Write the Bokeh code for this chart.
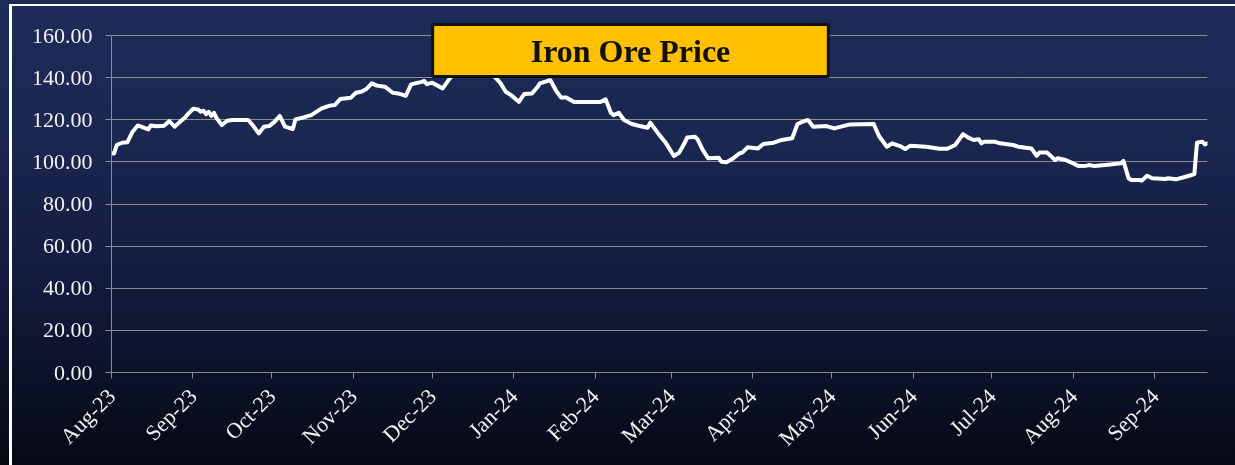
import math
import pandas as pd
from bokeh.plotting import figure
from bokeh.models import (ColumnDataSource, FixedTicker, DatetimeTickFormatter,
                          NumeralTickFormatter, Range1d, Label, GlobalInlineStyleSheet)
from bokeh.embed import file_html
from bokeh.resources import INLINE

# ---------------- data ----------------
dates = [
    "2023-08-01", "2023-08-02", "2023-08-03", "2023-08-05", "2023-08-07", "2023-08-09",
    "2023-08-11", "2023-08-13", "2023-08-15", "2023-08-16", "2023-08-18", "2023-08-21",
    "2023-08-23", "2023-08-25", "2023-08-27", "2023-08-29", "2023-08-30", "2023-09-01",
    "2023-09-03", "2023-09-04", "2023-09-05", "2023-09-06", "2023-09-07", "2023-09-08",
    "2023-09-09", "2023-09-10", "2023-09-12", "2023-09-14", "2023-09-16", "2023-09-22",
    "2023-09-24", "2023-09-26", "2023-09-28", "2023-09-30", "2023-10-02", "2023-10-04",
    "2023-10-06", "2023-10-09", "2023-10-10", "2023-10-13", "2023-10-16", "2023-10-17",
    "2023-10-20", "2023-10-23", "2023-10-25", "2023-10-27", "2023-10-31", "2023-11-02",
    "2023-11-04", "2023-11-06", "2023-11-08", "2023-11-10", "2023-11-13", "2023-11-16",
    "2023-11-18", "2023-11-21", "2023-11-23", "2023-11-27", "2023-11-28", "2023-11-29",
    "2023-12-01", "2023-12-05", "2023-12-08", "2023-12-11", "2023-12-14", "2023-12-18",
    "2023-12-21", "2023-12-25", "2023-12-27", "2023-12-29", "2023-12-31", "2024-01-03",
    "2024-01-05", "2024-01-08", "2024-01-10", "2024-01-11", "2024-01-14", "2024-01-15",
    "2024-01-17", "2024-01-19", "2024-01-21", "2024-01-24", "2024-02-03", "2024-02-05",
    "2024-02-07", "2024-02-08", "2024-02-10", "2024-02-12", "2024-02-15", "2024-02-18",
    "2024-02-21", "2024-02-22", "2024-02-25", "2024-02-27", "2024-02-28", "2024-03-02",
    "2024-03-04", "2024-03-06", "2024-03-07", "2024-03-10", "2024-03-11", "2024-03-13",
    "2024-03-15", "2024-03-19", "2024-03-20", "2024-03-22", "2024-03-24", "2024-03-27",
    "2024-03-28", "2024-03-30", "2024-04-03", "2024-04-05", "2024-04-09", "2024-04-12",
    "2024-04-16", "2024-04-18", "2024-04-20", "2024-04-22", "2024-04-24", "2024-04-29",
    "2024-05-02", "2024-05-08", "2024-05-17", "2024-05-19", "2024-05-22", "2024-05-24",
    "2024-05-27", "2024-05-29", "2024-05-31", "2024-06-06", "2024-06-11", "2024-06-14",
    "2024-06-17", "2024-06-20", "2024-06-22", "2024-06-24", "2024-06-26", "2024-06-27",
    "2024-06-28", "2024-07-02", "2024-07-04", "2024-07-09", "2024-07-11", "2024-07-16",
    "2024-07-18", "2024-07-19", "2024-07-22", "2024-07-25", "2024-07-26", "2024-07-29",
    "2024-07-31", "2024-08-03", "2024-08-06", "2024-08-07", "2024-08-09", "2024-08-15",
    "2024-08-19", "2024-08-20", "2024-08-22", "2024-08-23", "2024-08-26", "2024-08-27",
    "2024-08-29", "2024-08-31", "2024-09-05", "2024-09-06", "2024-09-09", "2024-09-12",
    "2024-09-14", "2024-09-16", "2024-09-17", "2024-09-19", "2024-09-20", "2024-09-21",
]
prices = [
    104.1, 104.0, 108.0, 109.1, 109.3, 114.3,
    117.3, 116.4, 115.4, 117.3, 116.9, 117.2,
    119.4, 116.7, 119.0, 121.1, 122.6, 125.2,
    124.9, 123.8, 124.3, 122.7, 123.8, 121.8,
    123.3, 120.7, 117.5, 119.5, 119.9, 119.9,
    117.0, 113.5, 116.7, 117.0, 119.0, 121.8,
    116.7, 115.6, 120.2, 121.1, 122.2, 123.0,
    125.4, 126.7, 127.0, 129.8, 130.4, 132.8,
    133.3, 134.6, 137.3, 136.2, 135.7, 132.8,
    132.5, 131.4, 136.8, 138.0, 138.4, 136.9,
    137.6, 134.9, 140.1, 143.0, 144.0, 142.0,
    144.5, 140.1, 137.4, 133.3, 131.7, 128.5,
    132.2, 132.5, 135.4, 137.3, 138.5, 138.8,
    134.1, 130.6, 130.6, 128.4, 128.4, 129.7,
    123.3, 122.2, 123.3, 119.9, 118.0, 117.0,
    116.2, 118.6, 113.5, 110.4, 108.8, 102.8,
    104.4, 108.8, 111.6, 111.9, 110.7, 105.6,
    101.7, 102.0, 100.1, 99.8, 101.2, 104.1,
    104.4, 106.9, 106.4, 108.5, 109.1, 110.4,
    111.2, 118.0, 119.1, 119.9, 116.7, 117.0,
    115.9, 117.8, 118.0, 112.3, 107.2, 108.8,
    107.5, 106.1, 107.7, 107.2, 106.2, 106.2,
    108.0, 113.2, 111.5, 110.4, 110.7, 108.8,
    109.6, 109.6, 108.8, 108.0, 107.2, 106.4,
    102.8, 104.4, 104.4, 100.9, 101.7, 100.9,
    99.8, 98.0, 98.2, 98.5, 98.0, 98.8,
    99.3, 100.5, 92.2, 91.4, 91.4, 91.1,
    93.4, 92.2, 91.9, 92.2, 91.7, 92.7,
    93.4, 94.2, 109.1, 109.6, 108.3, 108.8,
]
month_ticks = [
    "2023-08-01", "2023-09-01", "2023-10-01", "2023-11-01", "2023-12-01",
    "2024-01-01", "2024-02-01", "2024-03-01", "2024-04-01", "2024-05-01",
    "2024-06-01", "2024-07-01", "2024-08-01", "2024-09-01",
]
y_ticks = [0, 20, 40, 60, 80, 100, 120, 140, 160]
x_start, x_end = "2023-08-01", "2024-09-21"
title_text = "Iron Ore Price"

# ---------------- figure ----------------
def ms(d):
    return pd.Timestamp(d).value // 10**6

src = ColumnDataSource(dict(date=pd.to_datetime(dates), price=prices))

# frame spans y pixels 20..372; 160 lands at y=35 like the reference
y_top = 160 * (372 - 20) / (372 - 35)

p = figure(width=1235, height=465, x_axis_type="datetime",
           output_backend="svg", toolbar_location=None,
           x_range=Range1d(ms(x_start), ms(x_end)), y_range=Range1d(0, y_top),
           min_border_left=111, min_border_right=28,
           min_border_top=20, min_border_bottom=93)

p.background_fill_alpha = 0
p.border_fill_alpha = 0
p.outline_line_color = None

grey = "#8c8c8c"
label_font = "Liberation Serif"
label_color = "#f2f2f2"

p.xgrid.visible = False
p.ygrid.grid_line_color = grey
p.ygrid.grid_line_width = 1
p.ygrid.ticker = FixedTicker(ticks=y_ticks)

p.yaxis.ticker = FixedTicker(ticks=y_ticks)
p.yaxis.bounds = (y_ticks[0], y_ticks[-1])
p.yaxis.formatter = NumeralTickFormatter(format="0.00")
p.xaxis.ticker = FixedTicker(ticks=[ms(t) for t in month_ticks])
fmt = "%b-%y"
p.xaxis.formatter = DatetimeTickFormatter(months=fmt, days=fmt, years=fmt, hours=fmt,
                                          minutes=fmt, seconds=fmt, milliseconds=fmt,
                                          microseconds=fmt, hourmin=fmt, minsec=fmt)
p.xaxis.major_label_orientation = math.pi / 4

for ax in (p.xaxis, p.yaxis):
    ax.axis_line_color = grey
    ax.axis_line_width = 1
    ax.major_tick_line_color = grey
    ax.major_tick_out = 6
    ax.major_tick_in = 0
    ax.minor_tick_line_color = None
    ax.major_label_text_font = label_font
    ax.major_label_text_font_size = "22px"
    ax.major_label_text_color = label_color

p.yaxis.major_label_standoff = 13
p.xaxis.major_label_standoff = 14

p.line("date", "price", source=src, line_color="white", line_width=4,
       line_join="round", line_cap="round")

title = Label(x=519, y=322, x_units="screen", y_units="screen", text=title_text,
              text_font="Liberation Serif", text_font_size="32px", text_font_style="bold",
              text_color="#111111", text_align="center", text_baseline="middle",
              background_fill_color="#FFC000", border_line_color="#111111",
              border_line_width=3, padding=(98, 8))
p.add_layout(title)

css = """
html, body { margin: 0 !important; padding: 0 !important; overflow: hidden; }
html { height: 100%;
       background: linear-gradient(to bottom, #1d2b58 0%, #1a2750 30%, #131c40 58%, #0c1229 80%, #060914 100%); }
body { background: transparent; }
body::before { content: ""; position: fixed; left: 9px; top: 4px; right: 0; bottom: 0;
               border-top: 2px solid #ffffff; border-left: 3px solid #ffffff;
               pointer-events: none; }
"""
p.stylesheets = [GlobalInlineStyleSheet(css=css)]

open("out.html", "w").write(file_html(p, INLINE))
